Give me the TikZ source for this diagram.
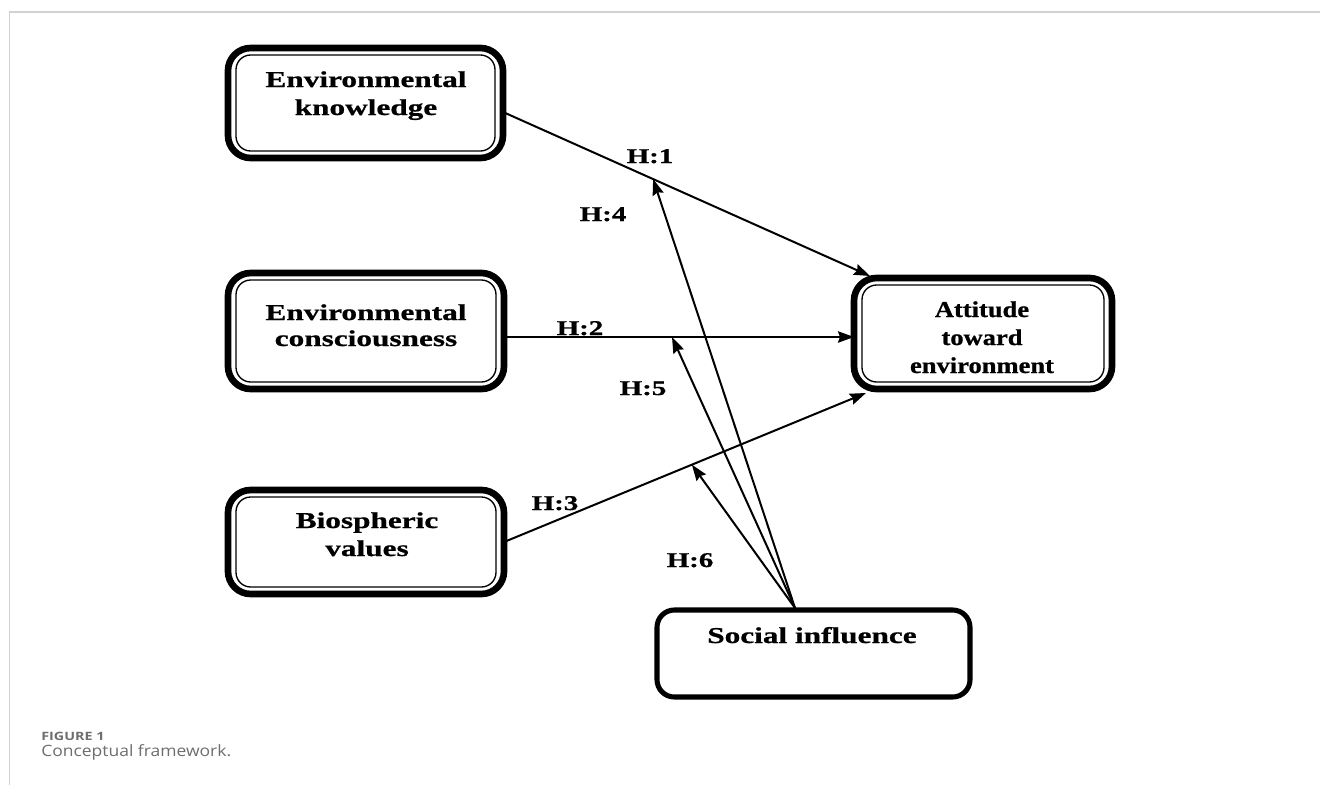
\documentclass[tikz,border=0pt]{standalone}
\usepackage{fontspec}
\setmainfont{Liberation Serif}
\newfontfamily\wideserif{Liberation Serif}[FakeStretch=1.38,FakeBold=0.8]
\newfontfamily\midserif{Liberation Serif}[FakeStretch=1.17,FakeBold=0.8]
\newfontfamily\capfont{Open Sans}[FakeStretch=1.12]
\newfontfamily\capboldfont{Open Sans}[FakeStretch=1.25]
\usetikzlibrary{arrows.meta,calc}
\definecolor{capgray}{HTML}{6E6E6E}
\definecolor{rulegray}{HTML}{D2D2D2}
\begin{document}
\begin{tikzpicture}[x=0.75pt,y=-0.75pt,
  sz/.style 2 args={minimum width=#1*0.75pt, minimum height=#2*0.75pt},
  outerbox/.style={draw=black, line width=5pt, rounded corners=17pt, inner sep=0pt, outer sep=0pt, rectangle},
  singlebox/.style={draw=black, line width=3.8pt, rounded corners=13pt, inner sep=0pt, outer sep=0pt, rectangle},
  innerline/.style={draw=black, line width=1pt, rounded corners=11pt},
  boxtext/.style={font=\wideserif\bfseries\fontsize{17}{21}\selectfont, align=center, inner sep=0pt, anchor=base},
  hlab/.style={font=\wideserif\bfseries\fontsize{15.75}{18}\selectfont, inner sep=0pt, anchor=base},
  arr/.style={draw=black, line width=1.5pt, -{Stealth[length=12pt,width=8.5pt,inset=1.5pt]}},
  captext/.style={anchor=base west, inner sep=0pt, text=capgray},
]
\useasboundingbox (0,0) rectangle (1320,785);
\fill[white] (0,0) rectangle (1320,785);

% page rules
\draw[rulegray, line width=1.5pt] (9,12) -- (1320,12);
\draw[rulegray, line width=1.2pt] (9.5,12) -- (9.5,785);

% boxes
\node[outerbox, sz={275}{110}] (ek) at (365.5,103) {};
\node[outerbox, sz={276}{116}] (ec) at (366,331) {};
\node[outerbox, sz={276}{104}] (bv) at (366,542) {};
\node[outerbox, sz={258}{111}] (att) at (983,333.5) {};
\node[singlebox, sz={313}{87}] (si) at (813.5,653.5) {};

\foreach \b in {ek,ec,bv,att}{
  \draw[innerline] ([shift={(8,7)}]\b.north west) rectangle ([shift={(-8,-7)}]\b.south east);
}

% box texts (anchor = baseline of last line)
\node[boxtext] (ekt) at (366,115) {Environmental\\knowledge};
\node[boxtext, font=\wideserif\bfseries\fontsize{17}{19.5}\selectfont] (ect) at (366,346) {Environmental\\consciousness};
\node[boxtext] (bvt) at (367,556) {Biospheric\\values};
\node[boxtext, font=\midserif\bfseries\fontsize{17}{21}\selectfont] (attt) at (982,373) {Attitude\\toward\\environment};
\node[boxtext] (sit) at (812,643) {Social influence};

% connector end points
\coordinate (h1s) at (ek.east |- 0,112);
\coordinate (h1e) at (870,276);
\coordinate (h2s) at (ec.east |- 0,337);
\coordinate (h2e) at (att.west |- 0,337);
\coordinate (h3s) at (bv.east |- 0,542);
\coordinate (h3e) at (866,393);
\coordinate (src) at (795,608);
\path (h1s) -- (h1e) coordinate[pos=0.409] (h4t);
\path (h2s) -- (h2e) coordinate[pos=0.48] (h5t);
\path (h3s) -- (h3e) coordinate[pos=0.519] (h6t);

% main paths
\draw[arr] (h1s) -- (h1e);
\draw[arr] (h2s) -- (h2e);
\draw[arr] (h3s) -- (h3e);

% moderating paths
\draw[arr] (src) -- (h4t);
\draw[arr] (src) -- (h5t);
\draw[arr] (src) -- (h6t);

% labels
\node[hlab] (l1) at (650,163) {H:1};
\node[hlab] (l4) at (603,221) {H:4};
\node[hlab] (l2) at (580,335) {H:2};
\node[hlab] (l5) at (643,395) {H:5};
\node[hlab] (l3) at (555,510) {H:3};
\node[hlab] (l6) at (690,567) {H:6};

% caption
\node[captext, font=\capboldfont\bfseries\fontsize{8.6}{10}\selectfont] (figlbl) at (41,740) {FIGURE 1};
\node[captext, font=\capfont\fontsize{11.7}{14}\selectfont] (figcap) at (41,756) {Conceptual framework.};
\end{tikzpicture}
\end{document}
